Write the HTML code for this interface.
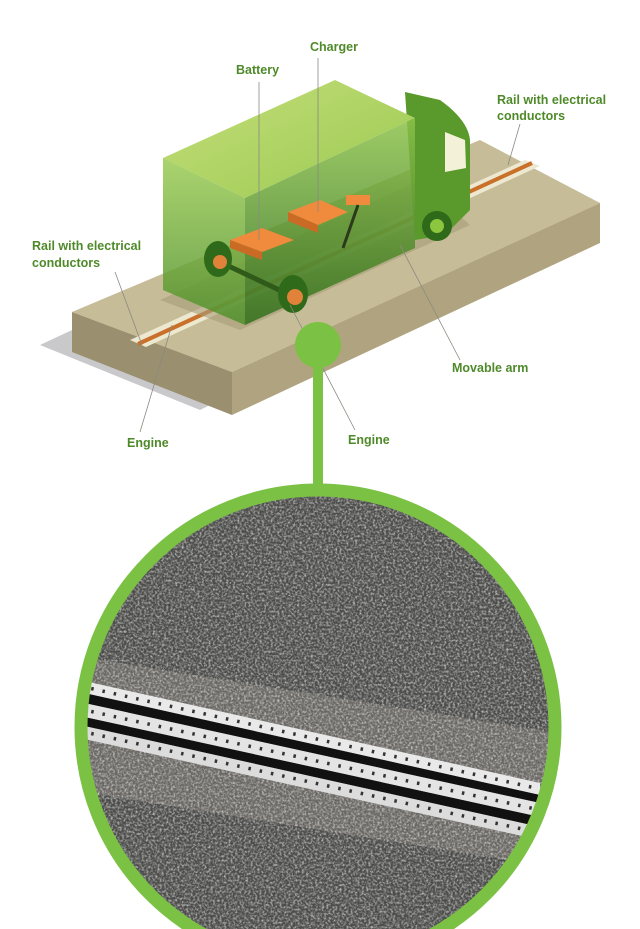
<!DOCTYPE html>
<html><head><meta charset="utf-8"><style>
html,body{margin:0;padding:0;background:#fff;}
svg{display:block}
text{font-family:"Liberation Sans",sans-serif;font-size:12.5px;fill:#4f8a2a;font-weight:bold}
</style></head><body>
<svg width="640" height="929" viewBox="0 0 640 929" xmlns="http://www.w3.org/2000/svg">
<defs>
<filter id="noise" x="0" y="0" width="100%" height="100%">
<feTurbulence type="fractalNoise" baseFrequency="0.45" numOctaves="3" seed="3" result="n"/>
<feColorMatrix in="n" type="matrix" values="0 0 0 0 0.75  0 0 0 0 0.75  0 0 0 0 0.75  0 0 0 2.2 -0.85"/>
</filter>
<filter id="noise2" x="0" y="0" width="100%" height="100%">
<feTurbulence type="fractalNoise" baseFrequency="0.6" numOctaves="2" seed="9" result="n"/>
<feColorMatrix in="n" type="matrix" values="0 0 0 0 0.1  0 0 0 0 0.1  0 0 0 0 0.1  0 0 0 2.2 -0.9"/>
</filter>
<clipPath id="cc"><circle cx="318" cy="727" r="236"/></clipPath>
<linearGradient id="side" x1="0" y1="0" x2="0" y2="1"><stop offset="0" stop-color="#8cc24a"/><stop offset="1" stop-color="#2f6e1a"/></linearGradient>
<linearGradient id="face" x1="0" y1="0" x2="0" y2="1"><stop offset="0" stop-color="#9ccc55"/><stop offset="1" stop-color="#4e8f2a"/></linearGradient>
<linearGradient id="top" x1="0" y1="0" x2="1" y2="1"><stop offset="0" stop-color="#c4dd7a"/><stop offset="1" stop-color="#9ccb52"/></linearGradient>
</defs>
<polygon points="40,345 72,330 220,400 200,410" fill="#c9c9cb"/>
<polygon points="72,312 480,140 600,203 232,372" fill="#c7bc98"/>
<polygon points="72,312 232,372 232,415 72,352" fill="#9a8f6e"/>
<polygon points="232,372 600,203 600,243 232,415" fill="#afa47f"/>
<polygon points="130,340 525,160 540,166 146,347" fill="#ede8d0"/>
<line x1="138" y1="344" x2="532" y2="163" stroke="#c9702a" stroke-width="4"/>
<polygon points="160,300 420,180 470,225 240,330" fill="#a79c78" opacity="0.6"/>
<path d="M405,92 L440,100 Q468,120 470,140 L470,210 L445,235 L415,240 Z" fill="#5a9a2c"/>
<polygon points="445,132 465,140 466,168 445,172" fill="#f3f1d8"/>
<circle cx="437" cy="226" r="15" fill="#2f6a1a"/><circle cx="437" cy="226" r="7" fill="#8cc63f"/>
<polygon points="163,158 335,80 415,118 245,198" fill="url(#top)"/>
<polygon points="163,158 245,198 245,325 163,290" fill="url(#face)" opacity="0.85"/>
<polygon points="245,198 415,118 415,248 245,325" fill="url(#side)" opacity="0.85"/>
<polygon points="230,240 262,228 294,240 262,252" fill="#f08a3c"/>
<polygon points="230,240 262,252 262,260 230,248" fill="#c96a25"/>
<polygon points="288,212 320,200 348,212 318,225" fill="#f08a3c"/>
<polygon points="288,212 318,225 318,233 288,221" fill="#c96a25"/>
<rect x="346" y="195" width="24" height="10" fill="#f08a3c"/>
<line x1="358" y1="205" x2="343" y2="248" stroke="#2b3a1a" stroke-width="3"/>
<line x1="220" y1="262" x2="292" y2="296" stroke="#2f5a1a" stroke-width="5"/>
<ellipse cx="218" cy="259" rx="14" ry="18" fill="#2f6a1a"/><circle cx="220" cy="262" r="7" fill="#e0823a"/>
<ellipse cx="293" cy="294" rx="15" ry="19" fill="#2f6a1a"/><circle cx="295" cy="297" r="8" fill="#e0823a"/>
<g stroke="#8a8a80" stroke-width="0.8" fill="none">
<line x1="259" y1="82" x2="259" y2="240"/>
<line x1="318" y1="58" x2="318" y2="212"/>
<line x1="520" y1="124" x2="508" y2="165"/>
<line x1="115" y1="272" x2="142" y2="345"/>
<line x1="400" y1="245" x2="460" y2="360"/>
<line x1="172" y1="325" x2="140" y2="432"/>
<line x1="290" y1="305" x2="355" y2="430"/>
</g>
<text x="310" y="51">Charger</text>
<text x="236" y="74">Battery</text>
<text x="497" y="104">Rail with electrical</text>
<text x="497" y="120">conductors</text>
<text x="32" y="250">Rail with electrical</text>
<text x="32" y="267">conductors</text>
<text x="452" y="372">Movable arm</text>
<text x="127" y="447">Engine</text>
<text x="348" y="444">Engine</text>
<circle cx="318" cy="345" r="23" fill="#7bc143"/>
<rect x="313" y="345" width="10" height="150" fill="#7bc143"/>
<g clip-path="url(#cc)">
<rect x="70" y="480" width="500" height="460" fill="#4a4a48"/>
<polygon points="70,655 570,735 570,870 70,790" fill="#6e6b65"/>
<rect x="70" y="480" width="500" height="460" filter="url(#noise)" opacity="0.8"/>
<rect x="70" y="480" width="500" height="460" filter="url(#noise2)" opacity="0.6"/>
<polygon points="80,680 540,783 540,795 80,692" fill="#e9e9e9"/>
<polygon points="80,692 540,795 540,803 80,702" fill="#111"/>
<polygon points="80,702 540,803 540,817 80,716" fill="#e4e4e4"/>
<polygon points="80,716 540,817 540,827 80,725" fill="#111"/>
<polygon points="80,725 540,827 540,840 80,738" fill="#dcdcdc"/>
<g stroke="#333" stroke-width="3.5" stroke-dasharray="2.5 9" fill="none">
<line x1="80" y1="686" x2="540" y2="789"/>
<line x1="80" y1="709" x2="540" y2="810"/>
<line x1="80" y1="731" x2="540" y2="833"/>
</g>
</g>
<circle cx="318" cy="727" r="237" fill="none" stroke="#7bc143" stroke-width="13"/>
</svg>
</body></html>
